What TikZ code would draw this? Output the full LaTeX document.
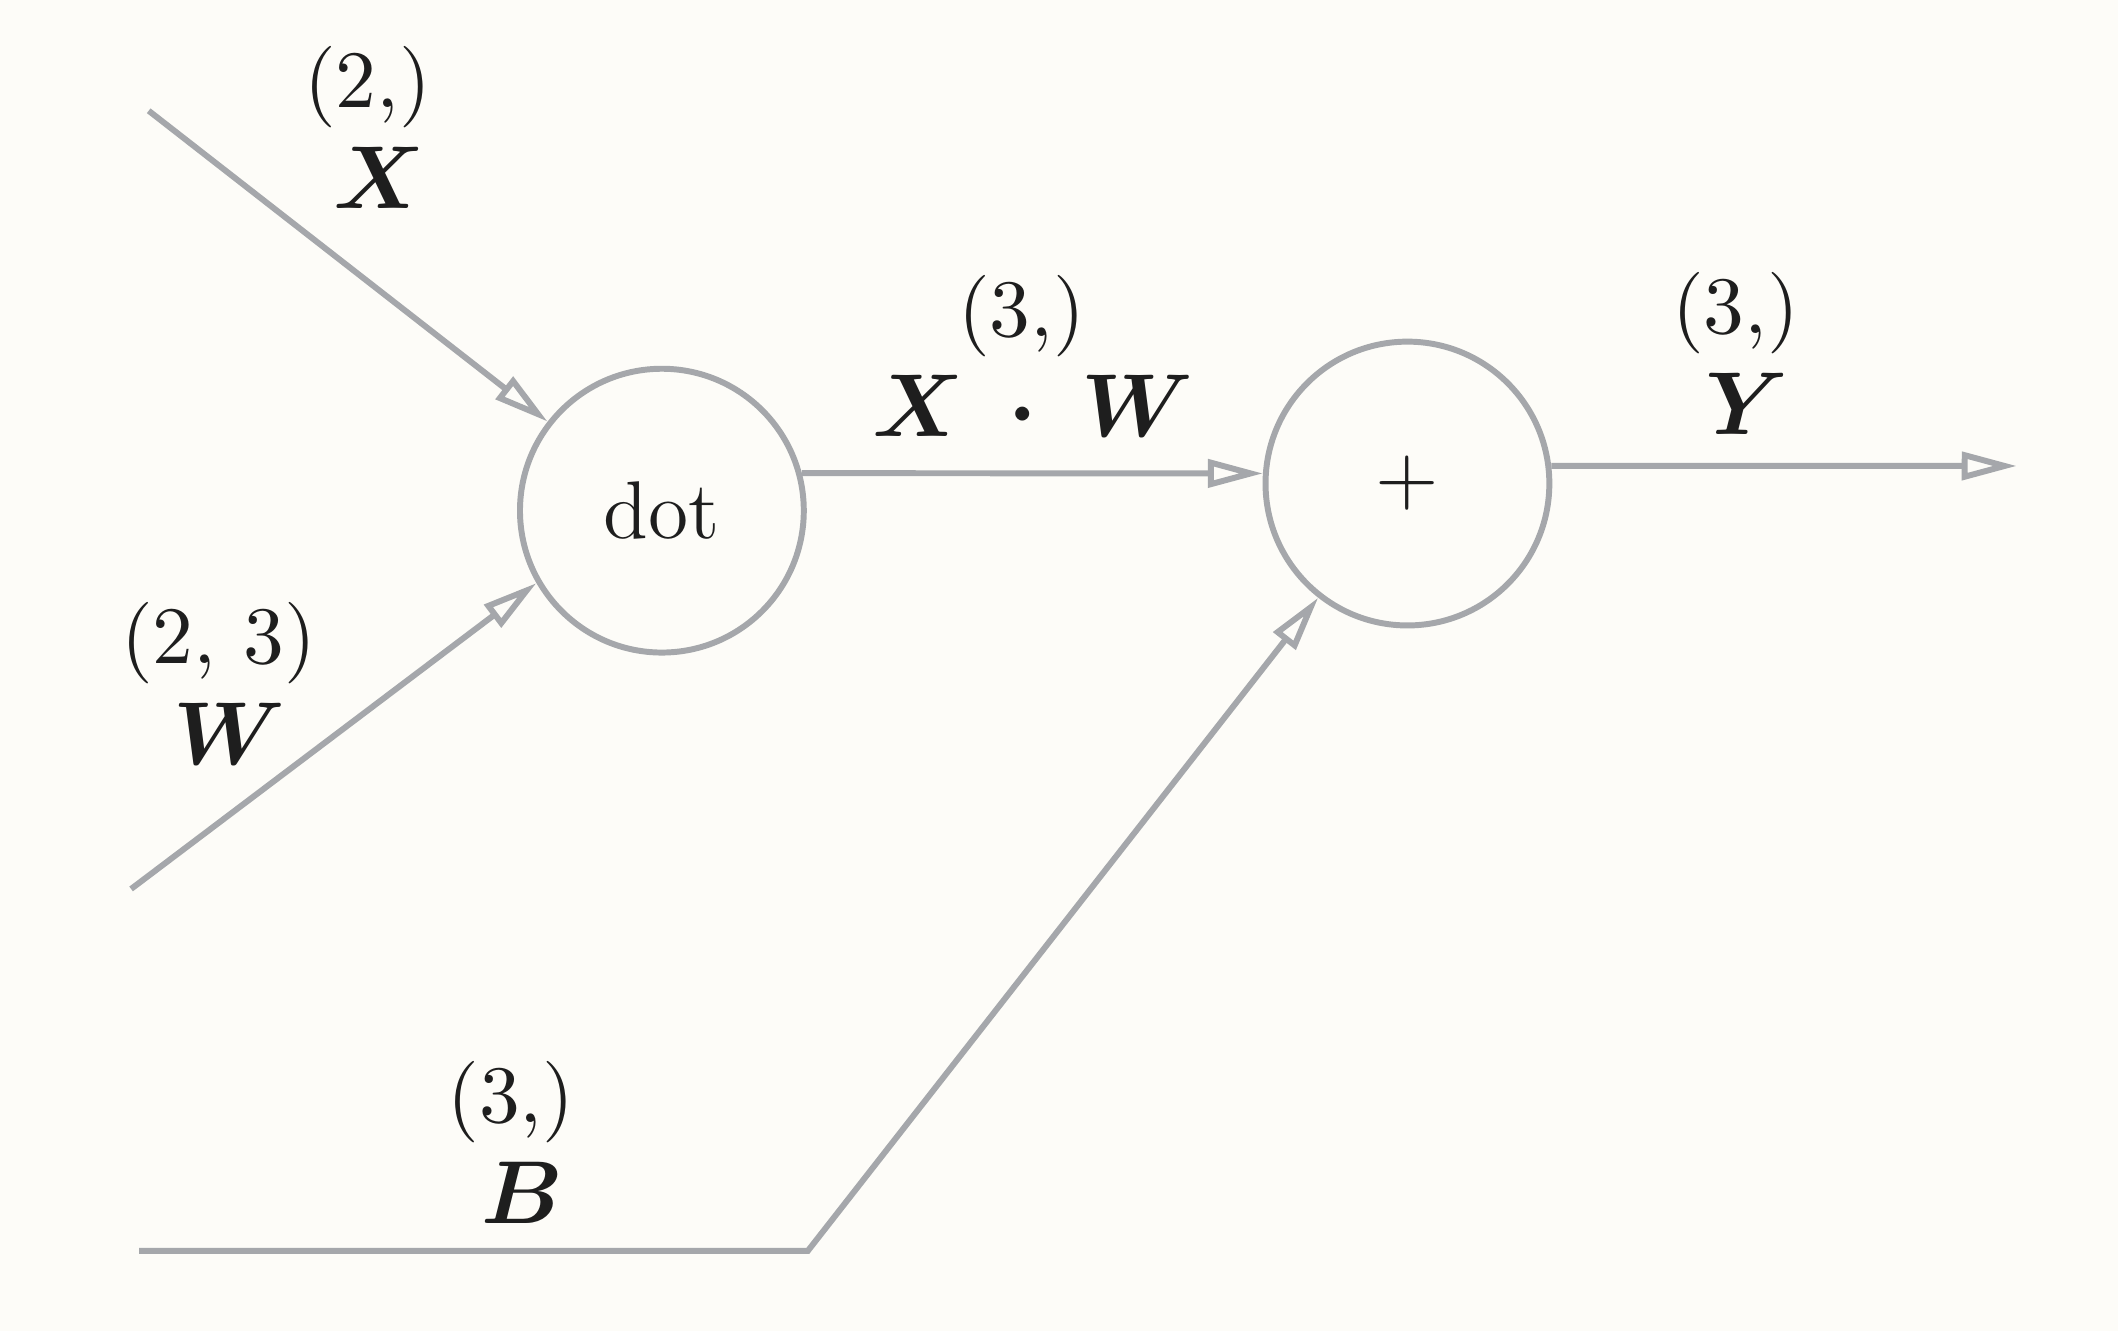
\documentclass[tikz,border=0pt]{standalone}
\usepackage{amsmath,bm}
\usetikzlibrary{arrows.meta}
\definecolor{graphbg}{RGB}{253,252,248}
\definecolor{graphline}{RGB}{165,167,171}
\definecolor{graphtext}{RGB}{30,30,30}
\newcommand{\bsym}[1]{\hspace*{3pt}{\fontsize{12.1}{13.5}\selectfont$#1$}}
\tikzset{
  opnode/.style={circle, draw=graphline, line width=0.8pt, minimum size=13.4mm,
    inner sep=0pt, text=graphtext},
  shapelabel/.style={align=center, text=graphtext},
  flowarrow/.style={-{Triangle[open, length=2.6mm, width=1.3mm]}, line width=0.8pt,
    draw=graphline}
}

\begin{document}
\begin{tikzpicture}[font=\fontsize{11}{13.5}\selectfont]
  \fill[graphbg] (0,0) rectangle (10,6.284);
  \useasboundingbox (0,0) rectangle (10,6.284);

  % operation nodes
  \node[opnode] (dot) at (3.125,3.873) {dot};
  \node[opnode] (plus) at (6.645,4.001) {$+$};

  % free ends of inputs and output
  \coordinate (xin) at (0.702,5.761);
  \coordinate (win) at (0.619,2.087);
  \coordinate (bin) at (0.657,0.378);
  \coordinate (bbend) at (3.814,0.378);
  \coordinate (yout) at (9.522,4.084);

  \draw[flowarrow] (xin) -- (dot);
  \draw[flowarrow] (win) -- (dot.210);
  \draw[flowarrow] (dot.15) -- (plus.176);
  \draw[flowarrow] (bin) -- (bbend) -- (plus);
  \draw[flowarrow] (plus.7) -- (yout);

  % shapes and names
  \node[shapelabel] (xlabel) at (1.736,5.682) {$(2{,})$\\\bsym{\bm{X}}};
  \node[shapelabel] (wlabel) at (1.032,3.057) {$(2,\,3)$\\\bsym{\bm{W}}};
  \node[shapelabel] (xwlabel) at (4.824,4.603)
    {$(3{,})$\\\bsym{\bm{X}\;\bm{\cdot}\;\bm{W}}};
  \node[shapelabel] (ylabel) at (8.195,4.615) {$(3{,})$\\\bsym{\bm{Y}}};
  \node[shapelabel] (blabel) at (2.412,0.890) {$(3{,})$\\\bsym{\bm{B}}};
\end{tikzpicture}
\end{document}
